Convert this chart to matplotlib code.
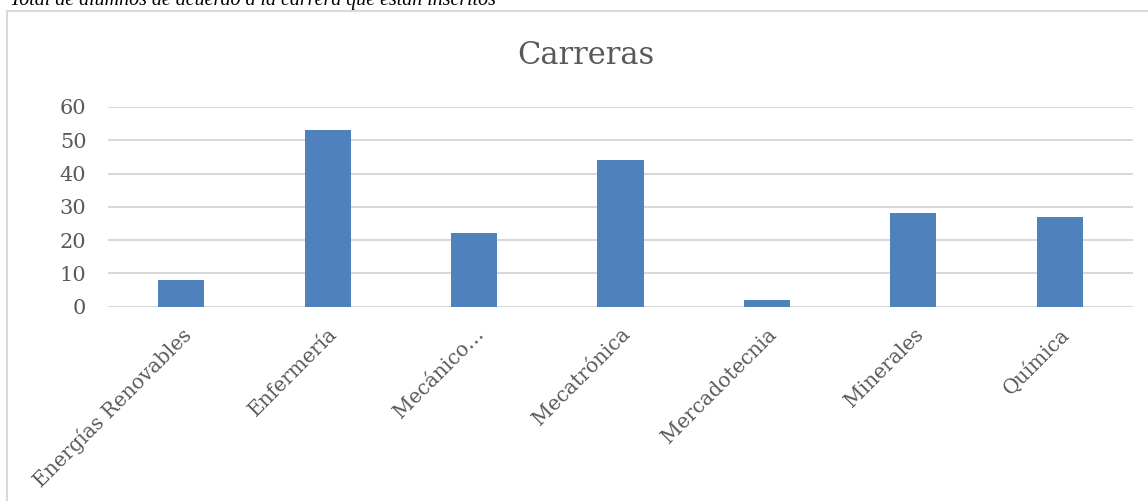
import matplotlib.pyplot as plt
from matplotlib.patches import Rectangle

carreras = ['Energías Renovables', 'Enfermería', 'Mecánico…', 'Mecatrónica',
            'Mercadotecnia', 'Minerales', 'Química']
alumnos = [8, 53, 22, 44, 2, 28, 27]
yticks = [0, 10, 20, 30, 40, 50, 60]

bar_color = '#4f81bd'
grid_color = '#d9d9d9'
text_color = '#595959'

plt.rcParams['font.family'] = ['DejaVu Serif']

fig = plt.figure(figsize=(11.48, 5.01), dpi=100)
ax = fig.add_axes([108 / 1148, 1 - 306.5 / 501, (1133 - 108) / 1148, (306.5 - 107) / 501])

x = list(range(len(carreras)))
ax.bar(x, alumnos, width=0.315, color=bar_color, zorder=3)
ax.set_xlim(-0.5, len(carreras) - 0.5)
ax.set_ylim(0, 60)
ax.set_yticks(yticks)
ax.set_xticks(x)
ax.set_xticklabels(carreras, rotation=45, ha='right', rotation_mode='anchor',
                   fontsize=14.5, color=text_color)
for lbl in ax.get_yticklabels():
    lbl.set_fontsize(15)
    lbl.set_color(text_color)
ax.yaxis.grid(True, color=grid_color, linewidth=1.5, zorder=0)
ax.tick_params(axis='y', length=0, pad=15.5)
ax.tick_params(axis='x', length=0, pad=13)
for s in ax.spines.values():
    s.set_visible(False)

# chart frame
fig.patches.append(Rectangle((7 / 1148, -0.05), 1.1, 1 - 11 / 501 + 0.05,
                             transform=fig.transFigure, fill=False,
                             edgecolor=grid_color, linewidth=1.5))

fig.text(586 / 1148, 1 - 55 / 501, 'Carreras', ha='center', va='center',
         fontsize=22, color=text_color)

# caption above the chart, cut off by the top edge as in the source
fig.text(10 / 1148, 1 - 4.5 / 501, 'Total de alumnos de acuerdo a la carrera que están inscritos',
         ha='left', va='baseline', fontsize=14.4, style='italic',
         family='Liberation Serif', color='black')

fig.savefig('out.png', dpi=100)
